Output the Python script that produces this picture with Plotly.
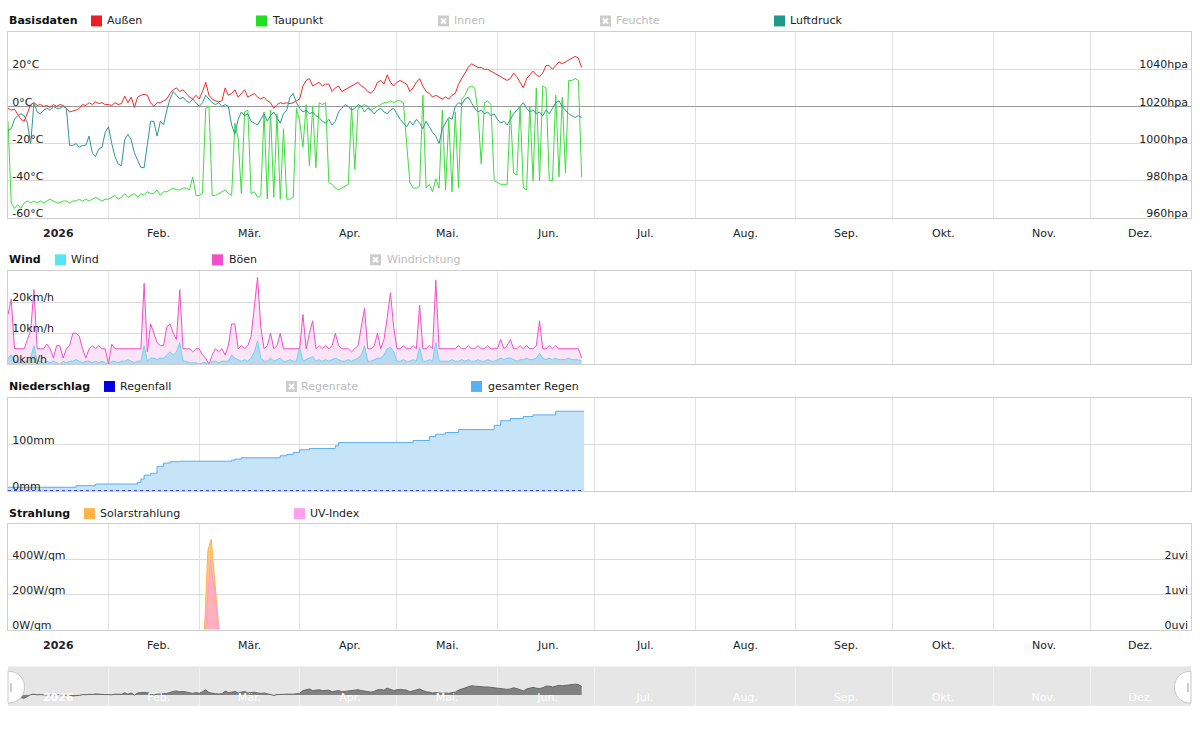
import pandas as pd
import plotly.graph_objects as go

# ---------------- data ----------------
aussen = [-1, -2, -1.5, -4, -7, -8, -4, 1, 2, 0.5, 1, 0, 0.5, -0.5, 1, 0, 1, 0.5, -1, -3, -2.5, -2, -1, 1, 0.5, 2, 1, 2.5, 1.5, 2, 1,
          1, 0.5, 2, 1, 1.5, 5.5, 2, 5, -0.5, 5, 6, 6.5, 6, 2, 0, 2, 2, 3, 4, 7, 9, 10, 8, 9, 7, 5, 4, 6,
          4, 8, 13, 6, 4, 3, 2.5, 3, 10, 6, 7, 9, 5, 7, 9, 5, 6, 7, 5, 4, 5, 3, 2, -1, 1, 2, 1.5, 2, 1.5, 2, 3,
          4, 11, 14, 15, 11, 12, 13, 11, 12, 12, 8, 10, 11, 8, 9, 10, 11, 12, 13, 11, 10, 8, 7, 9, 13, 14, 12, 17, 13, 11,
          13, 14, 13, 12, 8, 10, 13, 15, 11, 8, 7, 5, 6, 5, 4, 5, 4, 6, 7, 12, 15, 18, 21, 23, 22, 21, 21, 20, 20, 19, 18,
          17, 16, 15, 14, 15, 18, 16, 13, 10, 15, 17, 19, 17, 16, 18, 22, 22, 20, 22, 24, 23, 24, 25, 26, 27, 26, 21]

taupunkt = [-8, -52, -55, -53, -55, -52, -51, -52, -51, -52, -51, -52, -51, -50, -51, -52, -52, -51, -51, -52, -51, -51, -50, -51, -50, -51, -50, -49, -50, -51, -50,
            -50, -49, -48, -50, -49, -47, -49, -48, -47, -49, -47, -48, -46, -47, -47, -45, -48, -46, -46, -45, -44, -45, -45, -44, -44, -45, -38, -48,
            -48, -47, -1, 0, -48, -48, -47, -46, -45, -47, -48, -9, -17, -47, -3, -2, -47, -46, -49, -48, -3, -50, -2, -49, -4, -50, -12, -50, -50, -49, -1,
            -8, -22, 1, -32, 0, -33, 2, 1, 2, -41, -42, -44, -45, -44, -43, -42, 0, -34, -1, 0, 1, 0, -2, -1, 0, 1, 2, 2, 3, 2,
            3, 3, 2, -20, -41, -44, -44, -43, 6, -44, -42, -46, -39, -44, -2, -45, -7, -46, -3, -44, 4, 6, 10, 11, 10, -3, -31, 2, 3, 1, -40,
            -41, -42, -42, -42, -2, -36, -37, 0, -44, -45, 0, -40, 10, -40, 11, 10, -40, -40, 6, -38, 5, -36, 14, 14, 15, 14, -38]

luftdruck = [1007, 1008, 1013, 1015, 1016, 1015, 1011, 1000, 1022, 1017, 1016, 1018, 1019, 1018, 1020, 1019, 1019, 1020, 1019, 999, 999, 1000, 998, 999, 999, 1004, 995, 993, 997, 998, 1006,
             1009, 1000, 993, 989, 988, 1002, 1005, 1002, 995, 991, 987, 987, 1000, 1012, 1012, 1004, 1012, 1010, 1018, 1024, 1028, 1026, 1024, 1025, 1023, 1022, 1024, 1022,
             1020, 1022, 1026, 1024, 1022, 1021, 1022, 1020, 1021, 1020, 1010, 1005, 1013, 1017, 1015, 1016, 1012, 1011, 1010, 1013, 1016, 1012, 1015, 1017, 1014, 1011, 1016, 1018, 1025, 1027, 1022,
             1019, 1017, 1018, 1016, 1017, 1015, 1014, 1012, 1011, 1013, 1010, 1012, 1017, 1019, 1021, 1020, 1018, 1019, 1021, 1020, 1017, 1019, 1018, 1016, 1018, 1019, 1017, 1016, 1018, 1019,
             1016, 1013, 1011, 1009, 1012, 1010, 1013, 1011, 1008, 1012, 1009, 1006, 1004, 1000, 1008, 1011, 1014, 1013, 1020, 1022, 1021, 1024, 1025, 1022, 1019, 1017, 1018, 1016, 1017, 1015, 1016,
             1013, 1011, 1012, 1010, 1013, 1016, 1018, 1020, 1022, 1019, 1017, 1018, 1016, 1017, 1015, 1018, 1016, 1019, 1022, 1023, 1020, 1018, 1016, 1015, 1014, 1015, 1014]

wind = [2, 3, 1, 1, 0.5, 1, 1, 2, 6, 1, 1, 0.5, 1, 0.5, 1, 0.5, 0, 1, 0.5, 1, 1, 1.5, 1, 0.5, 1, 1, 0.5, 1, 0.5, 1, 0.5,
        0, 1, 1, 0.5, 1, 1, 1.5, 1, 0.5, 1, 1, 6, 1, 2, 2, 1.5, 2, 2, 3, 4, 3, 4, 7, 1, 1, 0.5, 0.5, 0.5,
        0, 0.5, 0.5, 0, 1, 1, 0.5, 1, 1, 1, 3, 2, 1.5, 1, 1.5, 1, 2, 4, 7.5, 2, 1, 1, 2, 1, 1.5, 2, 1, 1, 1.5, 1, 1,
        5.5, 1, 1.5, 2, 2.5, 1, 1.5, 1, 1.5, 1, 1.5, 2, 1.5, 1, 1, 1.5, 1, 1.5, 2, 3, 6, 1, 1, 1.5, 2, 2, 3, 5, 5.5, 4,
        1, 1, 1.5, 1, 1, 1.5, 1, 5.5, 1, 1, 1.5, 1, 7, 1, 1, 1, 1, 1.5, 1, 1, 1.5, 1, 1.5, 1, 1, 1.5, 1, 1, 1.5, 1, 1,
        1.5, 2, 1.5, 2, 2, 1.5, 1, 1.5, 1.5, 2, 1.5, 1.5, 2, 3.5, 2, 1.5, 2, 1.5, 2, 1.5, 1.5, 1.5, 2, 1.5, 1.5, 1.5, 1]

boeen = [16, 21, 5, 5, 5, 5, 8, 11, 24, 5, 5, 5, 6.5, 5, 2, 6, 6, 2, 5, 6, 10, 10, 9, 5, 2, 5, 6, 5, 6, 5, 5,
         0, 6.5, 5, 5, 5, 5, 5, 5, 5, 5, 5, 26, 4, 13, 10, 7, 6, 6, 12, 13, 10, 8, 24, 5, 5, 5, 4, 5,
         5, 3, 2, 0, 3, 5, 4, 5, 3, 6, 13, 13, 5, 6, 5, 6, 9, 18, 28, 12, 5, 6, 10, 5, 6, 10, 5, 5, 5, 5, 5,
         5, 16, 5, 10, 14, 5, 6, 5, 6, 5, 6, 10, 6, 5, 5, 5, 4, 5, 6, 12, 18, 5, 5, 6, 10, 5, 8, 15, 23, 12,
         5, 5, 6, 5, 5, 6, 5, 19, 5, 5, 6, 5, 27, 5, 5, 5, 5, 5, 5, 6, 5, 5, 6, 5, 5, 6, 5, 5, 6, 5, 5,
         5, 8, 5, 6, 8, 5, 5, 6, 5, 6, 5, 5, 6, 14, 5, 5, 6, 5, 6, 5, 5, 5, 5, 5, 5, 5, 2]

rain_dates = ["2026-01-01", "2026-01-22", "2026-01-28", "2026-02-10", "2026-02-11", "2026-02-12", "2026-02-14",
              "2026-02-16", "2026-02-18", "2026-02-20", "2026-02-23", "2026-03-11", "2026-03-12", "2026-03-14",
              "2026-03-26", "2026-03-28", "2026-03-30", "2026-04-01", "2026-04-04", "2026-04-12", "2026-04-13",
              "2026-05-06", "2026-05-11", "2026-05-13", "2026-05-16", "2026-05-20", "2026-05-31", "2026-06-02",
              "2026-06-05", "2026-06-09", "2026-06-12", "2026-06-19", "2026-06-27 18:00"]
rain_total = [8, 11.4, 15, 18.6, 25.7, 34, 38, 53, 60, 63, 64, 66.4, 68.6, 71.4, 75.7, 78.6, 82.9, 88.6, 91.4,
              97, 104, 108.6, 117, 122, 125.7, 132, 141, 151, 155.7, 160, 163.6, 171.4, 171.4]

regenfall_dates = ["2026-01-01", "2026-03-10", "2026-03-11", "2026-03-12", "2026-06-27 18:00"]
regenfall = [0, 0, 1.5, 0, 0]

solar_times = ["2026-03-02 15:00", "2026-03-03 16:00", "2026-03-04 17:00", "2026-03-07 02:00"]
solar = [0, 450, 514, 0]
uv_times = ["2026-03-02 22:00", "2026-03-04 11:00", "2026-03-07 02:00"]
uv = [0, 2.0, 0]

month_labels = ["<b>2026</b>", "Feb.", "Mär.", "Apr.", "Mai.", "Jun.", "Jul.", "Aug.", "Sep.", "Okt.", "Nov.", "Dez."]
temp_ticks = [-60, -40, -20, 0, 20]
temp_text = ["-60°C", "-40°C", "-20°C", "0°C", "20°C"]
hpa_ticks = [960, 980, 1000, 1020, 1040]
hpa_text = ["960hpa", "980hpa", "1000hpa", "1020hpa", "1040hpa"]
wind_ticks = [0, 10, 20]
wind_text = ["0km/h", "10km/h", "20km/h"]
rain_ticks = [0, 100]
rain_text = ["0mm", "100mm"]
solar_ticks = [0, 200, 400]
solar_text = ["0W/qm", "200W/qm", "400W/qm"]
uv_ticks = [0, 1, 2]
uv_text = ["0uvi", "1uvi", "2uvi"]

# ---------------- layout helpers ----------------
W, H = 1200, 750
FONT = "DejaVu Sans"


def px(x):
    return x / W


def py(y):
    return 1 - y / H


days = pd.date_range("2026-01-01", periods=len(aussen), freq="D")
month_starts = pd.date_range("2026-01-01", "2027-01-01", freq="MS")
# labels sit a fixed half-month (15.5 days) after each month start
label_pos = [s + pd.Timedelta(hours=372) for s in month_starts[:-1]]
XD = [px(8), px(1191)]

fig = go.Figure()

# Basisdaten
fig.add_trace(go.Scatter(x=days[:len(luftdruck)], y=luftdruck, mode="lines", line=dict(color="#2f9793", width=1),
                         xaxis="x", yaxis="y2", name="Luftdruck"))
fig.add_trace(go.Scatter(x=days[:len(taupunkt)], y=taupunkt, mode="lines", line=dict(color="#3ddc3d", width=1),
                         xaxis="x", yaxis="y", name="Taupunkt"))
fig.add_trace(go.Scatter(x=days[:len(aussen)], y=aussen, mode="lines", line=dict(color="#ee2a2a", width=1),
                         xaxis="x", yaxis="y", name="Außen"))

# Wind
fig.add_trace(go.Scatter(x=days[:len(boeen)], y=boeen, mode="lines", fill="tozeroy",
                         fillcolor="rgba(250,205,240,0.55)", line=dict(color="#f04fc8", width=1),
                         xaxis="x2", yaxis="y3", name="Böen"))
fig.add_trace(go.Scatter(x=days[:len(wind)], y=wind, mode="lines", fill="tozeroy",
                         fillcolor="rgba(160,215,240,0.75)", line=dict(color="#6fd3ea", width=1),
                         xaxis="x2", yaxis="y3", name="Wind"))

# Niederschlag
fig.add_trace(go.Scatter(x=rain_dates, y=rain_total, mode="lines", line_shape="hv", fill="tozeroy",
                         fillcolor="#c6e4f8", line=dict(color="#5aaeee", width=1),
                         xaxis="x3", yaxis="y4", name="gesamter Regen"))
fig.add_trace(go.Scatter(x=regenfall_dates, y=regenfall, mode="lines", line=dict(color="#1414c8", width=1.5, dash="dot"),
                         xaxis="x3", yaxis="y4", name="Regenfall"))

# Strahlung
fig.add_trace(go.Scatter(x=solar_times, y=solar, mode="lines", fill="tozeroy", fillcolor="rgba(255,190,90,0.85)",
                         line=dict(color="#ffb347", width=1), xaxis="x4", yaxis="y5", name="Solarstrahlung"))
fig.add_trace(go.Scatter(x=uv_times, y=uv, mode="lines", fill="tozeroy", fillcolor="rgba(255,170,210,0.8)",
                         line=dict(color="#ff99dd", width=1), xaxis="x4", yaxis="y6", name="UV-Index"))

# Navigator
fig.add_trace(go.Scatter(x=days[:len(aussen)], y=aussen, mode="lines", fill="tozeroy", fillcolor="rgba(110,110,110,0.85)",
                         line=dict(color="#666666", width=1), xaxis="x5", yaxis="y7", name="nav"))

tickfont = dict(family=FONT, size=11, color="#222222")


def xaxis(anchor, nav=False):
    d = dict(type="date", range=["2026-01-01", "2027-01-01"], domain=XD, anchor=anchor,
             tickmode="array", tickvals=label_pos, ticktext=month_labels, showgrid=False,
             zeroline=False, fixedrange=True, showticklabels=False, ticks="",
             minor=dict(tickmode="array", tickvals=list(month_starts), showgrid=True,
                        gridcolor="#e2e2e2", gridwidth=1, ticks=""),
             showline=True, mirror=True, linecolor="#cfcfcf", linewidth=1)
    if nav:
        d.update(showline=False, showticklabels=True, ticklabelposition="inside", ticks="",
                 ticklabeloverflow="allow",
                 tickfont=dict(family=FONT, size=11, color="#ffffff"),
                 minor=dict(tickmode="array", tickvals=list(month_starts), showgrid=True,
                            gridcolor="#f0f0f0", gridwidth=1, ticks=""))
    return d


def yaxis(anchor, dom, rng, tv, tt, side="left", overlay=None, zero=False):
    d = dict(domain=dom, range=rng, anchor=anchor, tickmode="array", tickvals=tv, ticktext=tt,
             ticklabelposition="inside top", ticks="", side=side, fixedrange=True,
             ticklabelshift=3, ticklabelstandoff=3, ticklabeloverflow="allow",
             tickfont=tickfont, showgrid=True, gridcolor="#d9d9d9", gridwidth=1,
             zeroline=zero, zerolinecolor="#9a9a9a", zerolinewidth=1,
             showline=True, mirror=True, linecolor="#cfcfcf", linewidth=1)
    if overlay:
        d.update(overlaying=overlay, showgrid=False, showline=False, zeroline=False, ticklabelstandoff=0)
    return d


D1 = [py(218.3), py(32.3)]
D2 = [py(365.3), py(271.7)]
D3 = [py(492.3), py(399)]
D4 = [py(631.3), py(525.7)]
D5 = [py(707.7), py(668.3)]

fig.update_layout(
    width=W, height=H, margin=dict(l=0, r=0, t=0, b=0),
    paper_bgcolor="#ffffff", plot_bgcolor="rgba(0,0,0,0)",
    showlegend=False, hovermode=False,
    font=dict(family=FONT, size=11, color="#222222"),
    xaxis=xaxis("y"),
    xaxis2=xaxis("y3"),
    xaxis3=xaxis("y4"),
    xaxis4=xaxis("y5"),
    xaxis5=xaxis("y7", nav=True),
    yaxis=yaxis("x", D1, [-60, 40], temp_ticks, temp_text, zero=True),
    yaxis2=yaxis("x", D1, [960, 1060], hpa_ticks, hpa_text, side="right", overlay="y"),
    yaxis3=yaxis("x2", D2, [0, 30], wind_ticks, wind_text),
    yaxis4=yaxis("x3", D3, [0, 200], rain_ticks, rain_text),
    yaxis5=yaxis("x4", D4, [0, 600], solar_ticks, solar_text),
    yaxis6=yaxis("x4", D4, [0, 3], uv_ticks, uv_text, side="right", overlay="y5"),
    yaxis7=dict(domain=D5, range=[-27, 71], anchor="x5", visible=False, fixedrange=True),
)

shapes = []
annotations = []

# month labels below panel 1 and panel 4 (positioned on the date axes)
for xref, ylab in [("x", 234.5), ("x4", 647)]:
    for mv, lab in zip(label_pos, month_labels):
        annotations.append(dict(text=lab, x=mv, y=py(ylab), xref=xref, yref="paper",
                                xanchor="center", yanchor="middle", showarrow=False,
                                font=dict(family=FONT, size=11, color="#222222")))

# navigator band
shapes.append(dict(type="rect", xref="paper", yref="paper", x0=px(8), x1=px(1191), y0=py(707.7), y1=py(668.3),
                   fillcolor="#e6e6e6", line=dict(width=0), layer="below"))


def title(text, x, y):
    annotations.append(dict(text="<b>%s</b>" % text, x=px(x), y=py(y), xref="paper", yref="paper",
                            xanchor="left", yanchor="middle", showarrow=False,
                            font=dict(family=FONT, size=11, color="#111111")))


def item(text, x0, tx, cy, color, disabled=False):
    s = 11
    shapes.append(dict(type="rect", xref="paper", yref="paper", x0=px(x0), x1=px(x0 + s),
                       y0=py(cy + s / 2), y1=py(cy - s / 2),
                       fillcolor="#cccccc" if disabled else color, line=dict(width=0)))
    if disabled:
        for a, b in [((x0 + 3, cy - 2.5), (x0 + s - 3, cy + 2.5)), ((x0 + 3, cy + 2.5), (x0 + s - 3, cy - 2.5))]:
            shapes.append(dict(type="line", xref="paper", yref="paper", x0=px(a[0]), y0=py(a[1]),
                               x1=px(b[0]), y1=py(b[1]), line=dict(color="#ffffff", width=2)))
    annotations.append(dict(text=text, x=px(tx - 1), y=py(cy), xref="paper", yref="paper",
                            xanchor="left", yanchor="middle", showarrow=False,
                            font=dict(family=FONT, size=11, color="#bbbbbb" if disabled else "#222222")))


title("Basisdaten", 7, 21)
item("Außen", 91, 106, 21, "#ee1c25")
item("Taupunkt", 256, 271, 21, "#22dd22")
item("Innen", 438, 453, 21, None, True)
item("Feuchte", 600, 615, 21, None, True)
item("Luftdruck", 774, 789, 21, "#1f9a8a")

title("Wind", 7, 260.5)
item("Wind", 55, 70, 260.5, "#55e6f5")
item("Böen", 212, 228, 260.5, "#f050c8")
item("Windrichtung", 370, 386, 260.5, None, True)

title("Niederschlag", 7, 387.5)
item("Regenfall", 104, 119, 387.5, "#0000e0")
item("Regenrate", 286, 300, 387.5, None, True)
item("gesamter Regen", 471, 487, 387.5, "#55b2f2")

title("Strahlung", 7, 515)
item("Solarstrahlung", 84, 99, 515, "#ffb347")
item("UV-Index", 294, 309, 515, "#ffa0f0")

# navigator handles
for xe, xc, tick in [(8, 30, 11), (1191, 1169, 1188)]:
    path = "M %f,%f C %f,%f %f,%f %f,%f Z" % (px(xe), py(673), px(xc), py(673), px(xc), py(705), px(xe), py(705))
    shapes.append(dict(type="path", xref="paper", yref="paper", path=path, fillcolor="#ffffff",
                       line=dict(color="#c8c8c8", width=1)))
    shapes.append(dict(type="line", xref="paper", yref="paper", x0=px(tick), x1=px(tick), y0=py(685), y1=py(694),
                       line=dict(color="#999999", width=1)))

fig.update_layout(shapes=shapes, annotations=annotations)

fig.write_html("out.html")
